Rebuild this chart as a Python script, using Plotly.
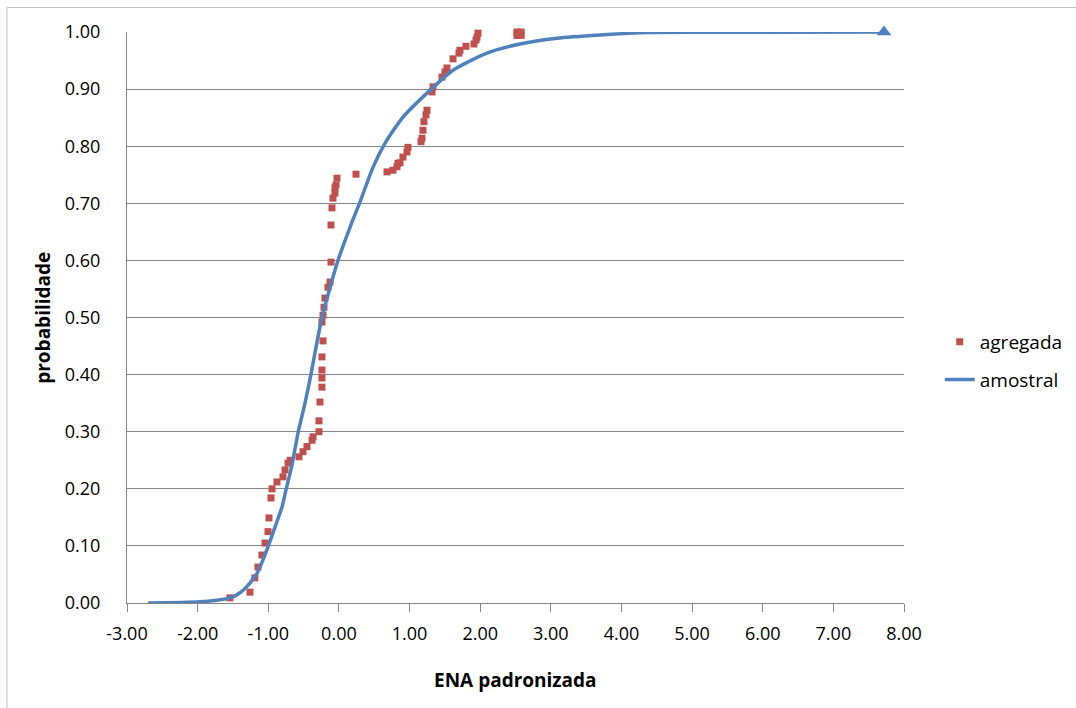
import plotly.graph_objects as go

# Sample (empirical) cumulative distribution of standardized ENA
amostral_x = [-2.70, -1.97, -1.54, -1.40, -1.26, -1.15, -1.02, -0.905, -0.806, -0.749,
              -0.664, -0.579, -0.480, -0.409, -0.240, -0.013, 0.157, 0.298, 0.482, 0.652,
              0.907, 1.247, 1.615, 2.096, 2.563, 3.087, 3.696, 4.404, 5.11, 7.716]
amostral_y = [0.000, 0.002, 0.009, 0.018, 0.035, 0.054, 0.093, 0.133, 0.168, 0.198,
              0.242, 0.298, 0.350, 0.392, 0.500, 0.600, 0.658, 0.702, 0.763, 0.805,
              0.851, 0.893, 0.933, 0.963, 0.979, 0.989, 0.9947, 0.9991, 0.9995, 1.000]

# Aggregated distribution points
agregada_x = [-1.542, -1.259, -1.19, -1.146, -1.09, -1.046, -1.004, -0.99, -0.962, -0.947,
              -0.877, -0.792, -0.763, -0.72, -0.69, -0.565, -0.508, -0.452, -0.38, -0.366,
              -0.282, -0.282, -0.268, -0.240, -0.240, -0.240, -0.240, -0.225, -0.240, -0.225,
              -0.211, -0.197, -0.155, -0.126, -0.112, -0.112, -0.098, -0.084, -0.056, -0.056,
              -0.041, -0.027, 0.242, 0.681, 0.766, 0.822, 0.836, 0.865, 0.907, 0.964,
              0.978, 1.162, 1.176, 1.190, 1.204, 1.233, 1.247, 1.318, 1.332, 1.459,
              1.502, 1.530, 1.615, 1.700, 1.714, 1.799, 1.912, 1.941, 1.955, 1.969,
              2.52, 2.58, 2.52, 2.58]
agregada_y = [0.009, 0.019, 0.044, 0.063, 0.084, 0.105, 0.125, 0.149, 0.184, 0.200,
              0.212, 0.221, 0.233, 0.245, 0.250, 0.256, 0.265, 0.274, 0.285, 0.291,
              0.300, 0.319, 0.352, 0.378, 0.394, 0.408, 0.431, 0.459, 0.492, 0.504,
              0.518, 0.534, 0.553, 0.562, 0.597, 0.662, 0.692, 0.709, 0.718, 0.727,
              0.732, 0.744, 0.751, 0.755, 0.758, 0.764, 0.770, 0.771, 0.781, 0.790,
              0.798, 0.808, 0.814, 0.828, 0.843, 0.855, 0.863, 0.895, 0.904, 0.921,
              0.930, 0.937, 0.953, 0.963, 0.968, 0.975, 0.979, 0.986, 0.991, 0.998,
              0.994, 0.994, 1.000, 1.000]

x_ticks = [-3, -2, -1, 0, 1, 2, 3, 4, 5, 6, 7, 8]
y_ticks = [0.0, 0.1, 0.2, 0.3, 0.4, 0.5, 0.6, 0.7, 0.8, 0.9, 1.0]

RED = "#C0504D"
BLUE = "#4F81BD"
GRID = "#868686"
FONT = "Open Sans"
TICK_FS = 18
LABEL_FS = 19

fig = go.Figure()

fig.add_trace(go.Scatter(
    x=agregada_x, y=agregada_y, mode="markers", name="agregada",
    marker=dict(symbol="square", size=7, color=RED, line=dict(width=0)),
    legendgroup="a", cliponaxis=False,
))
fig.add_trace(go.Scatter(
    x=amostral_x, y=amostral_y, mode="lines", name="amostral",
    line=dict(color=BLUE, width=3.5, shape="spline", smoothing=0.6),
    legendgroup="b", cliponaxis=False,
))
# Triangle marker on the final point of the sample curve
fig.add_trace(go.Scatter(
    x=amostral_x[-1:], y=amostral_y[-1:], mode="markers", showlegend=False,
    marker=dict(symbol="triangle-up", size=13, color=BLUE),
    cliponaxis=False,
))

fig.update_layout(
    width=1076, height=708,
    margin=dict(l=127, r=172, t=32, b=105, autoexpand=False),
    paper_bgcolor="white", plot_bgcolor="white",
    font=dict(family=FONT, size=TICK_FS, color="#000000"),
    showlegend=True,
    legend=dict(
        x=1.046, y=0.424, xanchor="left", yanchor="middle",
        font=dict(family=FONT, size=LABEL_FS, color="#000000"),
        traceorder="grouped", tracegroupgap=10,
        itemwidth=30, bgcolor="rgba(0,0,0,0)",
    ),
    xaxis=dict(
        range=[-3, 8], tickvals=x_ticks,
        ticktext=[f"{v:.2f}" for v in x_ticks],
        showgrid=False, zeroline=False,
        showline=True, linecolor=GRID, linewidth=1,
        ticks="outside", ticklen=8, tickcolor=GRID,
        ticklabelstandoff=6,
        tickfont=dict(family=FONT, size=TICK_FS),
    ),
    yaxis=dict(
        range=[0, 1], tickvals=y_ticks,
        ticktext=[f"{v:.2f}" for v in y_ticks],
        showgrid=True, gridcolor=GRID, gridwidth=1,
        zeroline=False,
        showline=True, linecolor=GRID, linewidth=1,
        ticks="", ticklabelstandoff=22,
        tickfont=dict(family=FONT, size=TICK_FS),
    ),
    annotations=[
        dict(text="<b>probabilidade</b>", x=-0.109, y=0.5, xref="paper", yref="paper",
             textangle=-90, showarrow=False, font=dict(family=FONT, size=LABEL_FS),
             xanchor="center", yanchor="middle"),
        dict(text="<b>ENA padronizada</b>", x=0.5, y=-0.135, xref="paper", yref="paper",
             showarrow=False, font=dict(family=FONT, size=LABEL_FS),
             xanchor="center", yanchor="middle"),
    ],
    shapes=[
        dict(type="line", xref="paper", yref="paper", x0=-0.1545, x1=-0.1545,
             y0=1.043, y1=-0.2, line=dict(color="#BFBFBF", width=1)),
        dict(type="line", xref="paper", yref="paper", x0=-0.1545, x1=1.23,
             y0=1.043, y1=1.043, line=dict(color="#BFBFBF", width=1)),
    ],
)

fig.write_html("out.html")
